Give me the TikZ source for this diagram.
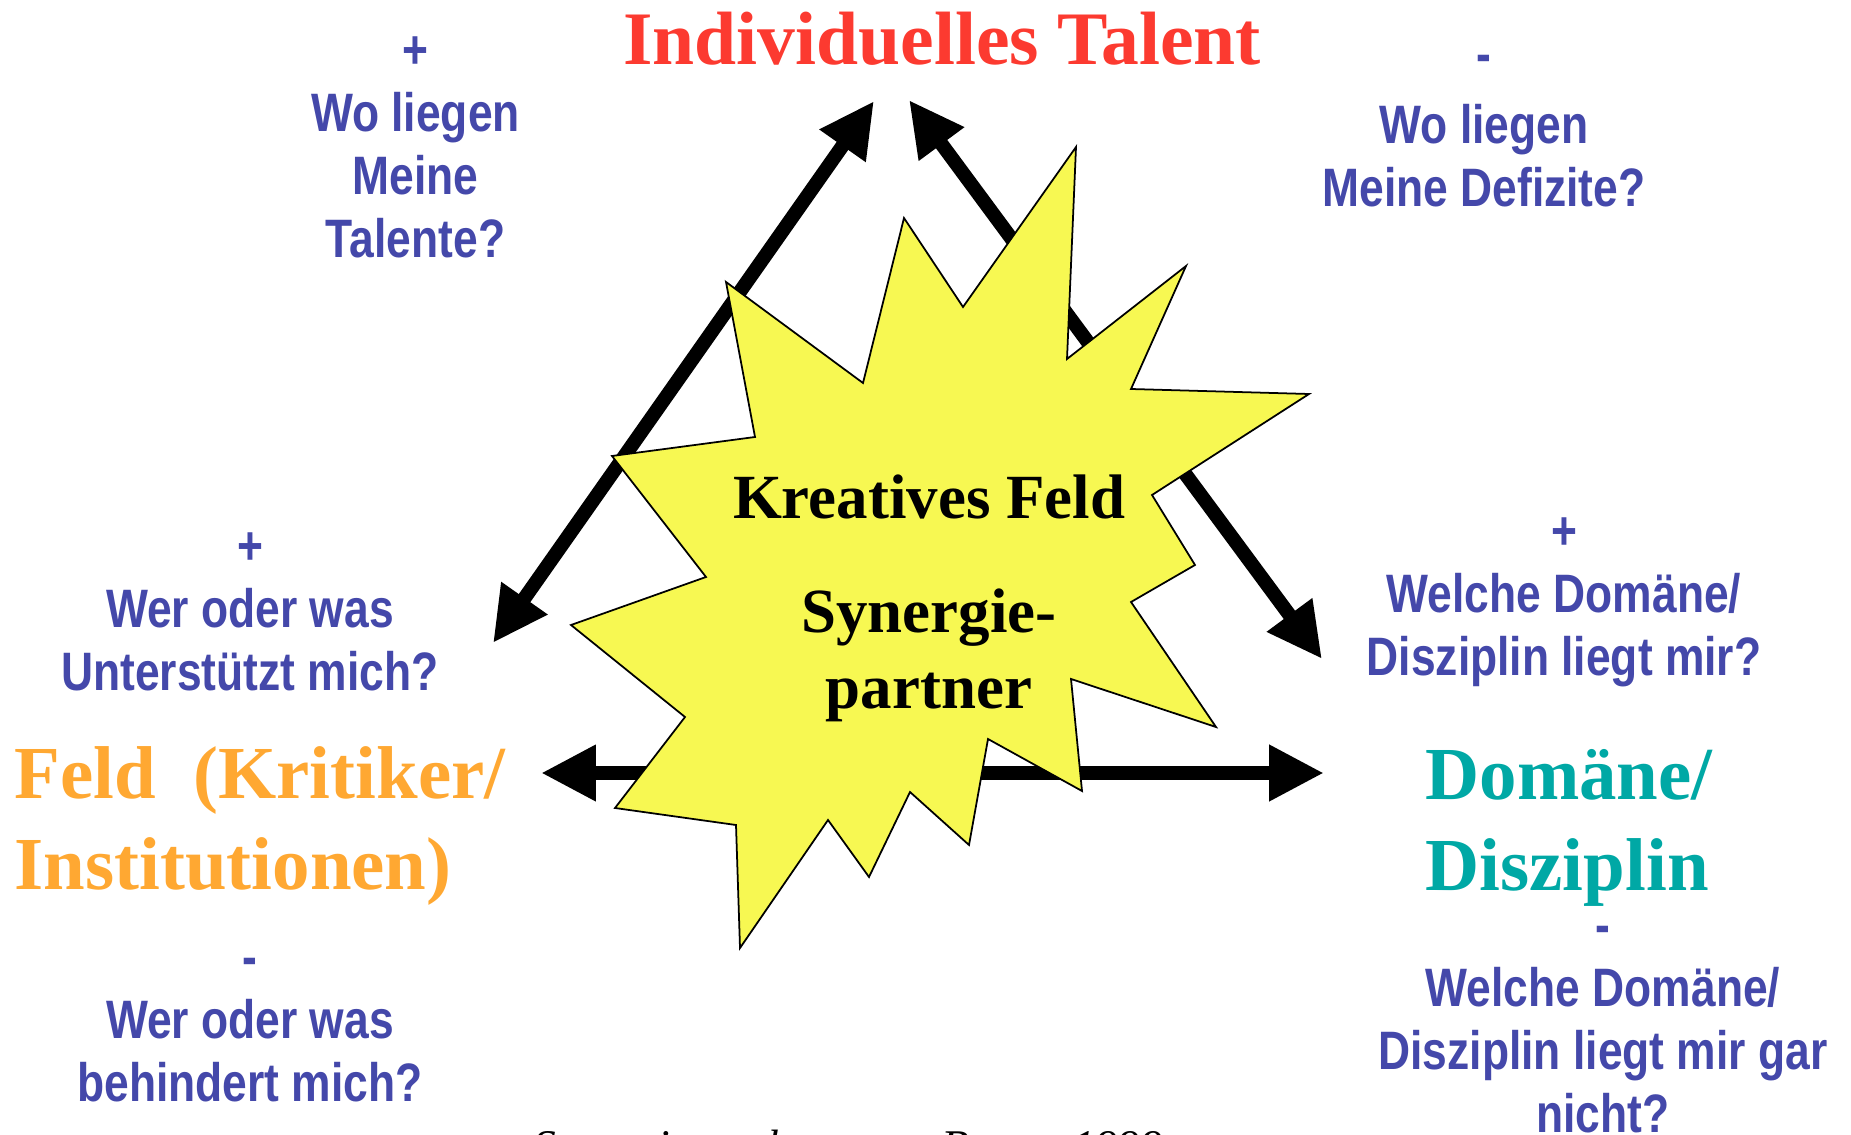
\documentclass[tikz,border=0pt]{standalone}
\usepackage{fontspec}
\setmainfont{Liberation Serif}
\newfontfamily\narrowsans[FakeStretch=0.82]{Liberation Sans}
\usetikzlibrary{arrows.meta}

\definecolor{qblue}{RGB}{68,72,170}
\definecolor{talentred}{RGB}{252,58,48}
\definecolor{feldorange}{RGB}{255,168,50}
\definecolor{domteal}{RGB}{0,168,165}
\definecolor{burstyellow}{RGB}{247,248,82}

\tikzset{
  question/.style={font=\narrowsans\bfseries\fontsize{15.4}{17.9}\selectfont, text=qblue, align=center, inner sep=0pt},
  corner/.style={font=\bfseries\fontsize{21.3}{25.9}\selectfont, align=left, inner sep=0pt, anchor=west},
  bigarrow/.style={line width=4pt, {Triangle[length=15.6pt,width=15pt]}-{Triangle[length=15.6pt,width=15pt]}},
  burst/.style={draw=black, line width=0.5pt, fill=burstyellow, line join=miter},
}

\begin{document}
\begin{tikzpicture}[scale=1]

    % Keep the page the size of the slide
    \useasboundingbox (0,0) rectangle (18.51,11.34);

    % Arrow tips of the triangle
    \coordinate (talentL) at (8.74,10.33);
    \coordinate (feldTip) at (4.93,4.91);
    \coordinate (talentR) at (9.09,10.34);
    \coordinate (domTip) at (13.22,4.75);
    \coordinate (feldR) at (5.41,3.61);
    \coordinate (domL) at (13.24,3.61);

    % The three double arrows, behind the star
    \draw[bigarrow] (talentL) -- (feldTip);
    \draw[bigarrow] (talentR) -- (domTip);
    \draw[bigarrow] (feldR) -- (domL);

    % The yellow star in the middle
    \draw[burst] (10.76,9.87) -- (10.67,7.75) -- (11.86,8.68) -- (11.31,7.45)
        -- (13.09,7.40) -- (11.52,6.39) -- (11.95,5.69) -- (11.31,5.32)
        -- (12.16,4.07) -- (10.71,4.55) -- (10.82,3.43) -- (9.88,3.95)
        -- (9.69,2.89) -- (9.10,3.42) -- (8.69,2.57) -- (8.28,3.14)
        -- (7.40,1.86) -- (7.36,3.09) -- (6.15,3.26) -- (6.85,4.17)
        -- (5.71,5.09) -- (7.06,5.57) -- (6.12,6.78) -- (7.55,6.97)
        -- (7.26,8.52) -- (8.63,7.51) -- (9.04,9.16) -- (9.63,8.27) -- cycle;

    % Text inside the star
    \node[font=\bfseries\fontsize{17.9}{21.6}\selectfont, align=center, inner sep=0pt] (core) at (9.29,5.355)
        {Kreatives Feld\\[10.8pt]Synergie-\\partner};

    % The three corners
    \node[font=\bfseries\fontsize{21.5}{25.6}\selectfont, text=talentred, inner sep=0pt, anchor=base] (talent) at (9.42,10.69) {Individuelles Talent};
    \node[corner, text=feldorange] (feld) at (0.14,3.08) {Feld\ \ (Kritiker/\\Institutionen)};
    \node[corner, text=domteal] (domaene) at (14.25,3.065) {Domäne/\\Disziplin};

    % Questions, plus and minus
    \node[question] (talentPlus) at (4.155,9.865) {+\\Wo liegen\\Meine\\Talente?};
    \node[question] (talentMinus) at (14.84,10.03) {-\\[2.5pt]Wo liegen\\Meine Defizite?};
    \node[question] (feldPlus) at (2.50,5.225) {+\\Wer oder was\\Unterstützt mich?};
    \node[question] (feldMinus) at (2.50,1.04) {-\\Wer oder was\\behindert mich?};
    \node[question] (domPlus) at (15.64,5.32) {+\\Welche Domäne/\\Disziplin liegt mir?};
    \node[question] (domMinus) at (16.03,1.045) {-\\Welche Domäne/\\Disziplin liegt mir gar\\nicht?};

    % Source line, cut off by the page edge
    \node[font=\itshape\fontsize{12.9}{15}\selectfont, inner sep=0pt, anchor=base west] (source) at (5.33,-0.27)
        {Synergie nach\hspace{3.35em}Burow 1999};

\end{tikzpicture}
\end{document}
